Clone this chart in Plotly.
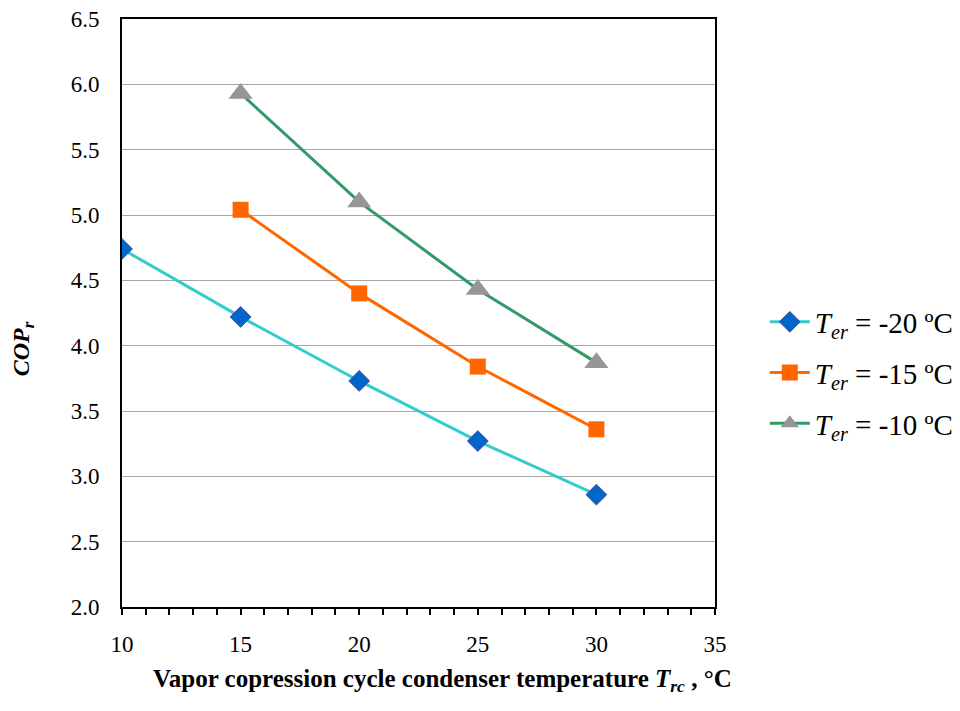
import plotly.graph_objects as go

x_vals_m20 = [10, 15, 20, 25, 30]
cop_m20 = [4.74, 4.22, 3.73, 3.27, 2.86]
x_vals_m15 = [15, 20, 25, 30]
cop_m15 = [5.04, 4.40, 3.84, 3.36]
x_vals_m10 = [15, 20, 25, 30]
cop_m10 = [5.93, 5.10, 4.43, 3.87]

names = ["<i>T</i><sub><i>er</i></sub> = -20 ºC",
         "<i>T</i><sub><i>er</i></sub> = -15 ºC",
         "<i>T</i><sub><i>er</i></sub> = -10 ºC"]

x_title = "<b>Vapor copression cycle condenser temperature <i>T</i><sub><i>rc</i></sub> , °C</b>"
y_title = "<b><i>COP</i><sub><i>r</i></sub></b>"

FONT = "Liberation Serif"

fig = go.Figure()
fig.add_trace(go.Scatter(x=x_vals_m20, y=cop_m20, mode="lines+markers", name=names[0],
                         legendgroup="a",
                         line=dict(color="#33CCCC", width=3),
                         marker=dict(symbol="diamond", size=16, color="#0066CC",
                                     line=dict(color="#4A4A9A", width=1))))
fig.add_trace(go.Scatter(x=x_vals_m15, y=cop_m15, mode="lines+markers", name=names[1],
                         legendgroup="b",
                         line=dict(color="#FF6600", width=3),
                         marker=dict(symbol="square", size=16, color="#FF6600")))
fig.add_trace(go.Scatter(x=x_vals_m10, y=cop_m10, mode="lines+markers", name=names[2],
                         legendgroup="c",
                         line=dict(color="#339966", width=3),
                         marker=dict(symbol="triangle-up", size=21, color="#969696")))

fig.update_layout(
    width=960, height=711,
    margin=dict(l=114, r=253, t=11, b=112, autoexpand=False),
    paper_bgcolor="white", plot_bgcolor="white",
    font=dict(family=FONT, size=22, color="black"),
    legend=dict(x=1.084, y=0.398, xanchor="left", yanchor="middle",
                font=dict(family=FONT, size=29, color="black"),
                tracegroupgap=10, itemwidth=40),
    showlegend=True,
)
fig.update_xaxes(
    range=[10, 35], dtick=5, tick0=10,
    showgrid=False, zeroline=False, automargin=False,
    showline=True, linecolor="black", linewidth=2, mirror=True,
    ticks="outside", ticklen=6, tickwidth=1.5, tickcolor="black",
    minor=dict(dtick=1, ticks="outside", ticklen=6, tickwidth=1.5, tickcolor="black"),
    ticklabelstandoff=9, ticklabeloverflow="allow",
    tickfont=dict(family=FONT, size=23),
)
fig.update_yaxes(
    range=[2.0, 6.5], dtick=0.5, tick0=2.0, tickformat=".1f",
    showgrid=True, gridcolor="#A6A6A6", gridwidth=1, zeroline=False, automargin=False,
    showline=True, linecolor="black", linewidth=2, mirror=True,
    ticks="", ticklabelstandoff=16, ticklabeloverflow="allow",
    tickfont=dict(family=FONT, size=23),
)

fig.add_annotation(text=x_title, xref="paper", yref="paper", x=0.54, y=-0.125,
                   xanchor="center", yanchor="middle", showarrow=False,
                   font=dict(family=FONT, size=25, color="black"))
fig.add_annotation(text=y_title, xref="paper", yref="paper", x=-0.167, y=0.44,
                   xanchor="center", yanchor="middle", showarrow=False, textangle=-90,
                   font=dict(family=FONT, size=24, color="black"))

fig.write_html("out.html")
